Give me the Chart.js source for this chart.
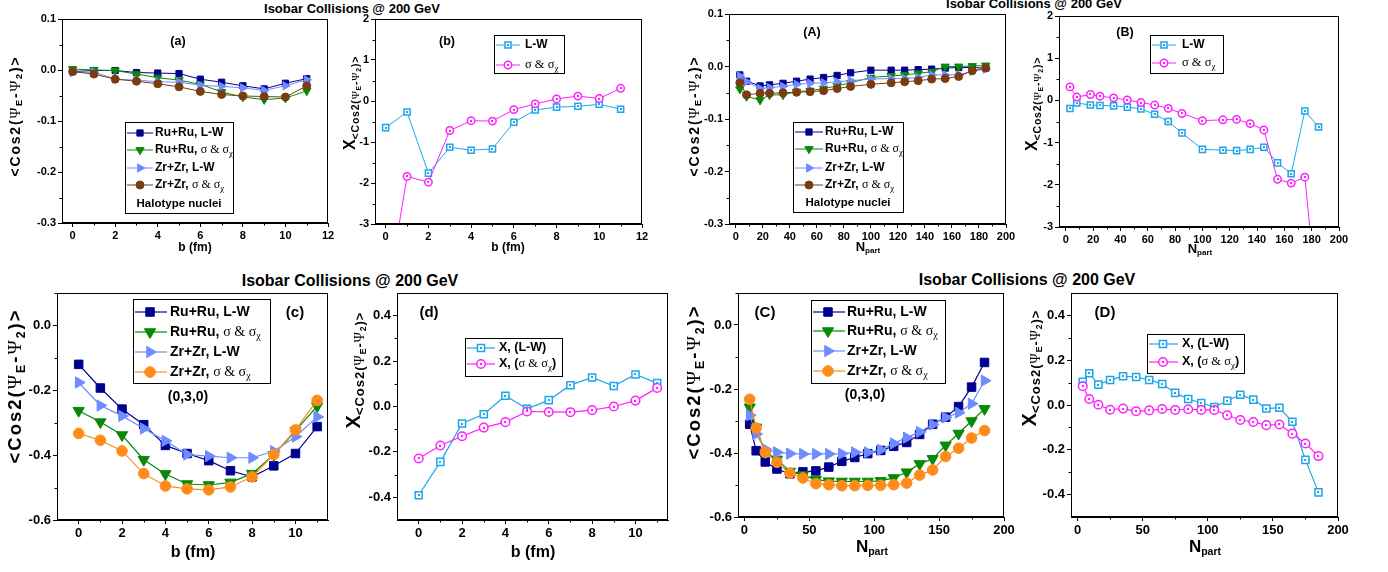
<!DOCTYPE html>
<html><head><meta charset="utf-8">
<script src="https://cdn.jsdelivr.net/npm/chart.js@4.4.1/dist/chart.umd.min.js"></script>
<style>
body{margin:0;background:#fff;width:1388px;height:572px;overflow:hidden;position:relative;font-family:'Liberation Sans',Arial,sans-serif}
canvas{position:absolute}
.t{position:absolute;font-weight:bold;white-space:nowrap;transform:translate(-50%,-50%);color:#000;line-height:1}
</style></head><body>
<div class="t" style="left:352px;top:8px;font-size:13px">Isobar Collisions @ 200 GeV</div>
<div class="t" style="left:1034px;top:3px;font-size:13px">Isobar Collisions @ 200 GeV</div>
<div class="t" style="left:350px;top:281px;font-size:16px">Isobar Collisions @ 200 GeV</div>
<div class="t" style="left:1027px;top:280px;font-size:16px">Isobar Collisions @ 200 GeV</div>
<script>
// ---------------- DATA ----------------
const bFm = [0,1,2,3,4,5,6,7,8,9,10,11];
const nPartTop = [3,8,18,25,35,45,55,65,75,85,100,115,125,135,145,155,165,175,185];
const nPartBot = [4,9,16,25,35,45,55,65,75,85,95,105,115,125,135,145,155,165,175,185];

// (a) halo, vs b
const a_RuLW  = [-0.003,-0.001,-0.001,-0.005,-0.006,-0.007,-0.018,-0.024,-0.031,-0.037,-0.026,-0.017];
const a_RuSig = [0.002,0.000,-0.001,-0.008,-0.015,-0.020,-0.028,-0.043,-0.053,-0.058,-0.055,-0.041];
const a_ZrLW  = [-0.005,-0.004,-0.018,-0.020,-0.023,-0.024,-0.030,-0.032,-0.035,-0.040,-0.031,-0.019];
const a_ZrSig = [-0.003,-0.008,-0.018,-0.022,-0.027,-0.033,-0.042,-0.048,-0.051,-0.052,-0.053,-0.031];
// (b)
const b_LW  = [-0.65,-0.27,-1.76,-1.13,-1.20,-1.17,-0.52,-0.22,-0.15,-0.13,-0.08,-0.20];
const b_Sig = [-5.0,-1.84,-1.98,-0.72,-0.48,-0.49,-0.21,-0.07,0.05,0.12,0.06,0.31];
// (A) halo, vs Npart
const A_RuLW  = [-0.016,-0.028,-0.037,-0.035,-0.032,-0.028,-0.024,-0.021,-0.017,-0.012,-0.007,-0.007,-0.007,-0.006,-0.005,-0.003,-0.002,-0.002,-0.003];
const A_RuSig = [-0.043,-0.057,-0.064,-0.054,-0.054,-0.048,-0.046,-0.042,-0.037,-0.031,-0.021,-0.018,-0.016,-0.013,-0.010,0.000,0.000,0.001,0.002];
const A_ZrLW  = [-0.018,-0.029,-0.042,-0.040,-0.038,-0.034,-0.032,-0.031,-0.029,-0.027,-0.024,-0.023,-0.023,-0.021,-0.016,-0.016,-0.016,-0.009,-0.005];
const A_ZrSig = [-0.031,-0.054,-0.051,-0.051,-0.050,-0.049,-0.048,-0.046,-0.042,-0.038,-0.034,-0.031,-0.029,-0.027,-0.024,-0.023,-0.019,-0.008,-0.003];
// (B)
const B_LW  = [-0.19,-0.06,-0.11,-0.12,-0.13,-0.16,-0.20,-0.33,-0.50,-0.77,-1.16,-1.18,-1.19,-1.16,-1.11,-1.48,-1.74,-0.25,-0.63];
const B_Sig = [0.32,0.08,0.14,0.10,0.06,0.01,-0.05,-0.11,-0.19,-0.31,-0.48,-0.46,-0.45,-0.55,-0.70,-1.87,-1.96,-1.82,-5.1];
// (c) (0,3,0), vs b
const c_RuLW  = [-0.120,-0.193,-0.258,-0.306,-0.370,-0.395,-0.417,-0.448,-0.467,-0.433,-0.395,-0.312];
const c_RuSig = [-0.263,-0.298,-0.338,-0.414,-0.458,-0.489,-0.492,-0.484,-0.457,-0.399,-0.325,-0.249];
const c_ZrLW  = [-0.176,-0.247,-0.279,-0.318,-0.356,-0.398,-0.403,-0.408,-0.408,-0.388,-0.343,-0.282];
const c_ZrSig = [-0.333,-0.354,-0.387,-0.457,-0.495,-0.504,-0.507,-0.498,-0.467,-0.398,-0.322,-0.231];
// (d)
const d_LW  = [-0.391,-0.244,-0.075,-0.034,0.047,-0.010,0.028,0.094,0.128,0.090,0.141,0.103];
const d_Sig = [-0.229,-0.172,-0.131,-0.093,-0.069,-0.022,-0.024,-0.025,-0.016,0.000,0.026,0.082];
// (C) (0,3,0), vs Npart
const C_RuLW  = [-0.310,-0.393,-0.428,-0.450,-0.465,-0.459,-0.456,-0.444,-0.426,-0.414,-0.402,-0.392,-0.379,-0.367,-0.342,-0.310,-0.288,-0.255,-0.194,-0.117];
const C_RuSig = [-0.257,-0.320,-0.398,-0.420,-0.458,-0.469,-0.483,-0.488,-0.489,-0.489,-0.489,-0.487,-0.478,-0.460,-0.434,-0.418,-0.376,-0.339,-0.300,-0.262];
const C_ZrLW  = [-0.282,-0.341,-0.388,-0.398,-0.402,-0.403,-0.403,-0.403,-0.402,-0.398,-0.398,-0.390,-0.370,-0.352,-0.334,-0.311,-0.289,-0.274,-0.246,-0.174];
const C_ZrSig = [-0.232,-0.322,-0.398,-0.429,-0.463,-0.478,-0.496,-0.499,-0.502,-0.502,-0.501,-0.501,-0.499,-0.494,-0.469,-0.453,-0.411,-0.385,-0.353,-0.330];
// (D)
const D_LW  = [0.104,0.142,0.091,0.112,0.128,0.125,0.112,0.094,0.054,0.027,0.009,-0.009,0.019,0.046,0.024,-0.016,-0.012,-0.075,-0.245,-0.390];
const D_Sig = [0.084,0.027,0.001,-0.021,-0.016,-0.028,-0.024,-0.018,-0.022,-0.019,-0.022,-0.022,-0.046,-0.067,-0.076,-0.090,-0.087,-0.128,-0.172,-0.228];

// tick labels
const tickB12 = [0,2,4,6,8,10,12];
const tickB10 = [0,2,4,6,8,10];
const tickN20 = [0,20,40,60,80,100,120,140,160,180,200];
const tickN50 = [0,50,100,150,200];
const tickCosTop = [0.1,0.0,-0.1,-0.2,-0.3];
const tickXTop = [2,1,0,-1,-2,-3];
const tickCosBot = [0.0,-0.2,-0.4,-0.6];
const tickXBot = [0.4,0.2,0.0,-0.2,-0.4];

// ---------------- HELPERS ----------------
const SANS="'Liberation Sans', Arial, sans-serif", SERIF="'Liberation Serif','Times New Roman',serif";
const F=(s,b,serif)=>(b?'bold ':'')+s+'px '+(serif?SERIF:SANS);
const P=(t,f,dy,sp)=>({t,f,dy:dy||0,sp:sp||0});
function cosParts(s,sp){const ss=s*0.66,d=s*0.28;sp=sp||0;return [P('<Cos2(',F(s,1),0,sp),P('Ψ',F(s*1.05,0,1),0,sp),P('E',F(ss,1),d,sp),P('-',F(s,1),0,sp),P('Ψ',F(s*1.05,0,1),0,sp),P('2',F(ss,1),d,sp),P(')>',F(s,1),0,sp)];}
function xParts(s,ss,sp){return [P('X',F(s,1)),...cosParts(ss,sp).map(p=>({t:p.t,f:p.f,dy:p.dy+s*0.3,sp:p.sp}))];}
function sigParts(pre,s,post){const a=[];if(pre)a.push(P(pre,F(s,1)));a.push(P('σ & σ',F(s,0,1)));a.push(P('χ',F(s*0.72,0,1),s*0.3));if(post)a.push(P(post,F(s,1)));return a;}
function nParts(s){return [P('N',F(s,1)),P('part',F(s*0.62,1),s*0.32)];}
function txt(t,s){return [P(t,F(s,1))];}
function pw(ctx,p){ctx.font=p.f;return ctx.measureText(p.t).width+p.sp*p.t.length;}
function richW(ctx,parts){let w=0;parts.forEach(p=>{w+=pw(ctx,p);});return w;}
function drawRich(ctx,x,y,parts,align){const w=richW(ctx,parts);let cx=align==='left'?x:x-w/2;
  parts.forEach(p=>{ctx.font=p.f;if(p.sp){for(const ch of p.t){ctx.fillText(ch,cx,y+p.dy);cx+=ctx.measureText(ch).width+p.sp;}}else{ctx.fillText(p.t,cx,y+p.dy);cx+=ctx.measureText(p.t).width;}});}

function ds(xs,ys,color,style,r,rot,lw,open,order){
  return {data:xs.map((x,i)=>({x,y:ys[i]})),showLine:true,borderColor:color,backgroundColor:color,borderWidth:lw,
    pointStyle:style,pointRadius:r,pointHoverRadius:r,pointRotation:rot,pointBackgroundColor:open?'#fff':color,
    pointBorderColor:color,pointBorderWidth:open?1.5:1,dot:!!open,order:order||0};
}
const NAVY='#00008f',GREEN='#078a07',LBLUE='#6f8cff',BROWN='#7a3d12',ORANGE='#ff8c1a',CYAN='#1ea6ea',MAG='#ff1fff';

const deco={id:'deco',
 afterDatasetsDraw(chart,args,o){
  const ctx=chart.ctx,ca=chart.chartArea;
  chart.data.datasets.forEach((d,i)=>{if(!d.dot)return;const m=chart.getDatasetMeta(i);ctx.save();ctx.fillStyle=d.borderColor;
    m.data.forEach(pt=>{if(pt.y<ca.top-1||pt.y>ca.bottom+1)return;ctx.fillRect(Math.round(pt.x)-1,Math.round(pt.y)-1,2,2);});ctx.restore();});
 },
 afterDraw(chart,args,o){
  const ctx=chart.ctx,ca=chart.chartArea,ox=o.ox,oy=o.oy;
  ctx.save();
  ctx.strokeStyle='#000';ctx.lineWidth=1;
  ctx.strokeRect(Math.round(ca.left)+0.5,Math.round(ca.top)+0.5,Math.round(ca.right-ca.left)-1,Math.round(ca.bottom-ca.top)-1);
  const xs=chart.scales.x,ys=chart.scales.y;
  ctx.beginPath();
  (o.minorX||[]).forEach(v=>{const p=Math.round(xs.getPixelForValue(v))+0.5;ctx.moveTo(p,ca.bottom);ctx.lineTo(p,ca.bottom+2.5);});
  (o.minorY||[]).forEach(v=>{const p=Math.round(ys.getPixelForValue(v))+0.5;ctx.moveTo(ca.left,p);ctx.lineTo(ca.left-2.5,p);});
  ctx.stroke();
  ctx.textBaseline='middle';
  const lg=o.legend;
  if(lg){
    const [x1,y1,x2,y2]=lg.box;
    ctx.fillStyle='#fff';ctx.fillRect(x1-ox,y1-oy,x2-x1,y2-y1);
    ctx.strokeStyle='#000';ctx.lineWidth=1;ctx.strokeRect(x1-ox+0.5,y1-oy+0.5,x2-x1,y2-y1);
    lg.rows.forEach(r=>{
      const d=chart.data.datasets[r.ds];const y=r.y-oy;
      ctx.strokeStyle=d.borderColor;ctx.lineWidth=d.borderWidth;ctx.beginPath();ctx.moveTo(lg.line[0]-ox,y);ctx.lineTo(lg.line[1]-ox,y);ctx.stroke();
      ctx.fillStyle=d.pointBackgroundColor;ctx.strokeStyle=d.pointBorderColor;ctx.lineWidth=d.pointBorderWidth;
      Chart.helpers.drawPoint(ctx,{pointStyle:d.pointStyle,rotation:d.pointRotation||0,radius:d.pointRadius,borderWidth:d.pointBorderWidth},lg.mark-ox,y);
      if(d.dot){ctx.fillStyle=d.borderColor;ctx.fillRect(Math.round(lg.mark-ox)-1,Math.round(y)-1,2,2);}
      ctx.fillStyle='#000';drawRich(ctx,lg.text-ox,y,r.parts,'left');
    });
  }
  ctx.fillStyle='#000';
  (o.texts||[]).forEach(t=>{ctx.save();ctx.translate(t.x-ox,t.y-oy);if(t.rot)ctx.rotate(-Math.PI/2);drawRich(ctx,0,0,t.parts,t.align||'center');ctx.restore();});
  ctx.restore();
 }};

function axis(min,max,ticks,fmt,size,isX,fit){
  return {type:'linear',min,max,
    afterBuildTicks:s=>{s.ticks=ticks.map(v=>({value:v}));},
    afterFit:s=>{if(isX)s.height=fit;else s.width=fit;},
    grid:{drawOnChartArea:false,drawTicks:true,tickLength:4,tickColor:'#000',color:'#000',lineWidth:1},
    border:{display:true,color:'#000',width:1},
    ticks:{color:'#000',font:{family:SANS,size,weight:'bold'},padding:2,autoSkip:false,maxRotation:0,minRotation:0,callback:v=>fmt(v)}};
}
const f1=v=>(Math.abs(v)<1e-9?0:v).toFixed(1), f0=v=>String(Math.round(v));

function makePanel(p){
  const padL=80,padT=14,padR=16,padB=48;
  const [L,T,R,B]=p.box;
  const left=L-padL,top=T-padT,w=R-L+padL+padR,h=B-T+padT+padB;
  const c=document.createElement('canvas');
  c.width=w;c.height=h;c.style.left=left+'px';c.style.top=top+'px';c.style.width=w+'px';c.style.height=h+'px';
  document.body.appendChild(c);
  new Chart(c,{type:'scatter',data:{datasets:p.datasets},
    options:{responsive:false,animation:false,devicePixelRatio:1,events:[],
      layout:{padding:{left:0,top:padT,right:padR,bottom:0}},
      plugins:{legend:{display:false},tooltip:{enabled:false},
        deco:{ox:left,oy:top,minorX:p.minorX,minorY:p.minorY,legend:p.legend,texts:p.texts}},
      scales:{x:axis(p.x[0],p.x[1],p.xt,p.xf||f0,p.fs,true,padB),y:axis(p.y[0],p.y[1],p.yt,p.yf,p.fs,false,padL)}},
    plugins:[deco]});
}

// ---------------- PANELS ----------------
function fourTop(xs,ru,rs,zl,zs){return [
  ds(xs,ru,NAVY,'rect',4.4,0,1,false,4),ds(xs,rs,GREEN,'triangle',4.8,180,1,false,3),
  ds(xs,zl,LBLUE,'triangle',4.8,90,1,false,2),ds(xs,zs,BROWN,'circle',4,0,1,false,1)];}
function fourBot(xs,ru,rs,zl,zs){return [
  ds(xs,ru,NAVY,'rect',6,0,1.2,false,4),ds(xs,rs,GREEN,'triangle',6.5,180,1.2,false,3),
  ds(xs,zl,LBLUE,'triangle',6.5,90,1.2,false,2),ds(xs,zs,ORANGE,'circle',5.3,0,1.2,false,1)];}
function twoTop(xs,l,s){return [ds(xs,l,CYAN,'rect',4.3,0,1,true,2),ds(xs,s,MAG,'circle',3.7,0,1,true,1)];}
function twoBot(xs,l,s){return [ds(xs,l,CYAN,'rect',5,0,1.2,true,2),ds(xs,s,MAG,'circle',4.3,0,1.2,true,1)];}
const odd12=[1,3,5,7,9,11], odd10=[1,3,5,7,9,11];
const minN20=[10,30,50,70,90,110,130,150,170,190], minN50=[25,75,125,175];

function legTop4(box,line,mark,text,ys,s){return {box,line,mark,text,rows:[
  {ds:0,y:ys[0],parts:txt('Ru+Ru, L-W',s)},{ds:1,y:ys[1],parts:sigParts('Ru+Ru, ',s)},
  {ds:2,y:ys[2],parts:txt('Zr+Zr, L-W',s)},{ds:3,y:ys[3],parts:sigParts('Zr+Zr, ',s)}]};}

makePanel({box:[62,19,328,223],x:[-0.5,12],y:[-0.3,0.1],xt:tickB12,yt:tickCosTop,yf:f1,fs:11,
  minorX:odd12,minorY:[0.05,-0.05,-0.15,-0.25],
  datasets:fourTop(bFm,a_RuLW,a_RuSig,a_ZrLW,a_ZrSig),
  legend:legTop4([125,122,233,213],[127,153],140,155,[133,150,168,185],12),
  texts:[{x:16,y:116,rot:1,parts:cosParts(14,1.8)},{x:195,y:248,parts:txt('b (fm)',12)},
    {x:178,y:42,parts:txt('(a)',12.5)},{x:179,y:204,parts:txt('Halotype nuclei',11.5)}]});

makePanel({box:[375,19,642,224],x:[-0.5,12],y:[-3,2],xt:tickB12,yt:tickXTop,yf:f0,fs:11,
  minorX:odd12,minorY:[1.5,0.5,-0.5,-1.5,-2.5],
  datasets:twoTop(bFm,b_LW,b_Sig),
  legend:{box:[494,35,564,73],line:[496,520],mark:508,text:525,rows:[{ds:0,y:45,parts:txt('L-W',12)},{ds:1,y:65,parts:sigParts('',12.5)}]},
  texts:[{x:351,y:103,rot:1,parts:xParts(16,10.5,0.8)},{x:508,y:248,parts:txt('b (fm)',12)},{x:447,y:42,parts:txt('(b)',12.5)}]});

makePanel({box:[729,14,1006,224],x:[-5,200],y:[-0.3,0.1],xt:tickN20,yt:tickCosTop,yf:f1,fs:11,
  minorX:minN20,minorY:[0.05,-0.05,-0.15,-0.25],
  datasets:fourTop(nPartTop,A_RuLW,A_RuSig,A_ZrLW,A_ZrSig),
  legend:legTop4([793,122,903,212],[795,823],809,825,[132,149,168,185],12),
  texts:[{x:695,y:116,rot:1,parts:cosParts(14,1.8)},{x:868,y:247,parts:nParts(13)},
    {x:812,y:33,parts:txt('(A)',12.5)},{x:848,y:203,parts:txt('Halotype nuclei',11.5)}]});

makePanel({box:[1059,16,1339,227],x:[-5,200],y:[-3,2],xt:tickN20,yt:tickXTop,yf:f0,fs:11,
  minorX:minN20,minorY:[1.5,0.5,-0.5,-1.5,-2.5],
  datasets:twoTop(nPartTop,B_LW,B_Sig),
  legend:{box:[1150,35,1223,73],line:[1152,1176],mark:1164,text:1182,rows:[{ds:0,y:45,parts:txt('L-W',12)},{ds:1,y:63,parts:sigParts('',12.5)}]},
  texts:[{x:1033,y:104,rot:1,parts:xParts(16,10.5,0.8)},{x:1200,y:249,parts:nParts(13)},{x:1125,y:33,parts:txt('(B)',12.5)}]});

makePanel({box:[57,293,328,520],x:[-1,11.5],y:[-0.6,0.1],xt:tickB10,yt:tickCosBot,yf:f1,fs:13,
  minorX:odd10,minorY:[0.1,-0.1,-0.3,-0.5],
  datasets:fourBot(bFm,c_RuLW,c_RuSig,c_ZrLW,c_ZrSig),
  legend:legTop4([133,299,270,383],[135,167],150,170,[312,332,352,372],14),
  texts:[{x:16,y:386,rot:1,parts:cosParts(18.5,2)},{x:193,y:553,parts:txt('b (fm)',16)},
    {x:295,y:313,parts:txt('(c)',15)},{x:188,y:397,parts:txt('(0,3,0)',14)}]});

makePanel({box:[397,293,668,520],x:[-1,11.5],y:[-0.5,0.5],xt:tickB10,yt:tickXBot,yf:f1,fs:13,
  minorX:odd10,minorY:[0.3,0.1,-0.1,-0.3],
  datasets:twoBot(bFm,d_LW,d_Sig),
  legend:{box:[465,338,562,376],line:[467,495],mark:481,text:499,rows:[{ds:0,y:348,parts:txt('X, (L-W)',12.5)},{ds:1,y:364,parts:sigParts('X, (',12.5,')')}]},
  texts:[{x:354,y:370,rot:1,parts:xParts(20,13,1)},{x:533,y:553,parts:txt('b (fm)',16)},{x:429,y:313,parts:txt('(d)',15)}]});

makePanel({box:[738,293,1004,517],x:[-5,200],y:[-0.6,0.1],xt:tickN50,yt:tickCosBot,yf:f1,fs:13,
  minorX:minN50,minorY:[0.1,-0.1,-0.3,-0.5],
  datasets:fourBot(nPartBot,C_RuLW,C_RuSig,C_ZrLW,C_ZrSig),
  legend:legTop4([811,300,945,383],[813,845],828,847,[312,331,351,371],14),
  texts:[{x:695,y:382,rot:1,parts:cosParts(18.5,2)},{x:872,y:547,parts:nParts(17)},
    {x:765,y:313,parts:txt('(C)',15)},{x:865,y:395,parts:txt('(0,3,0)',14)}]});

makePanel({box:[1071,293,1338,517],x:[-5,200],y:[-0.5,0.5],xt:tickN50,yt:tickXBot,yf:f1,fs:13,
  minorX:minN50,minorY:[0.3,0.1,-0.1,-0.3],
  datasets:twoBot(nPartBot,D_LW,D_Sig),
  legend:{box:[1147,334,1244,373],line:[1149,1178],mark:1163,text:1182,rows:[{ds:0,y:344,parts:txt('X, (L-W)',12.5)},{ds:1,y:362,parts:sigParts('X, (',12.5,')')}]},
  texts:[{x:1030,y:368,rot:1,parts:xParts(20,13,1)},{x:1205,y:547,parts:nParts(17)},{x:1105,y:313,parts:txt('(D)',15)}]});
</script>
</body></html>
